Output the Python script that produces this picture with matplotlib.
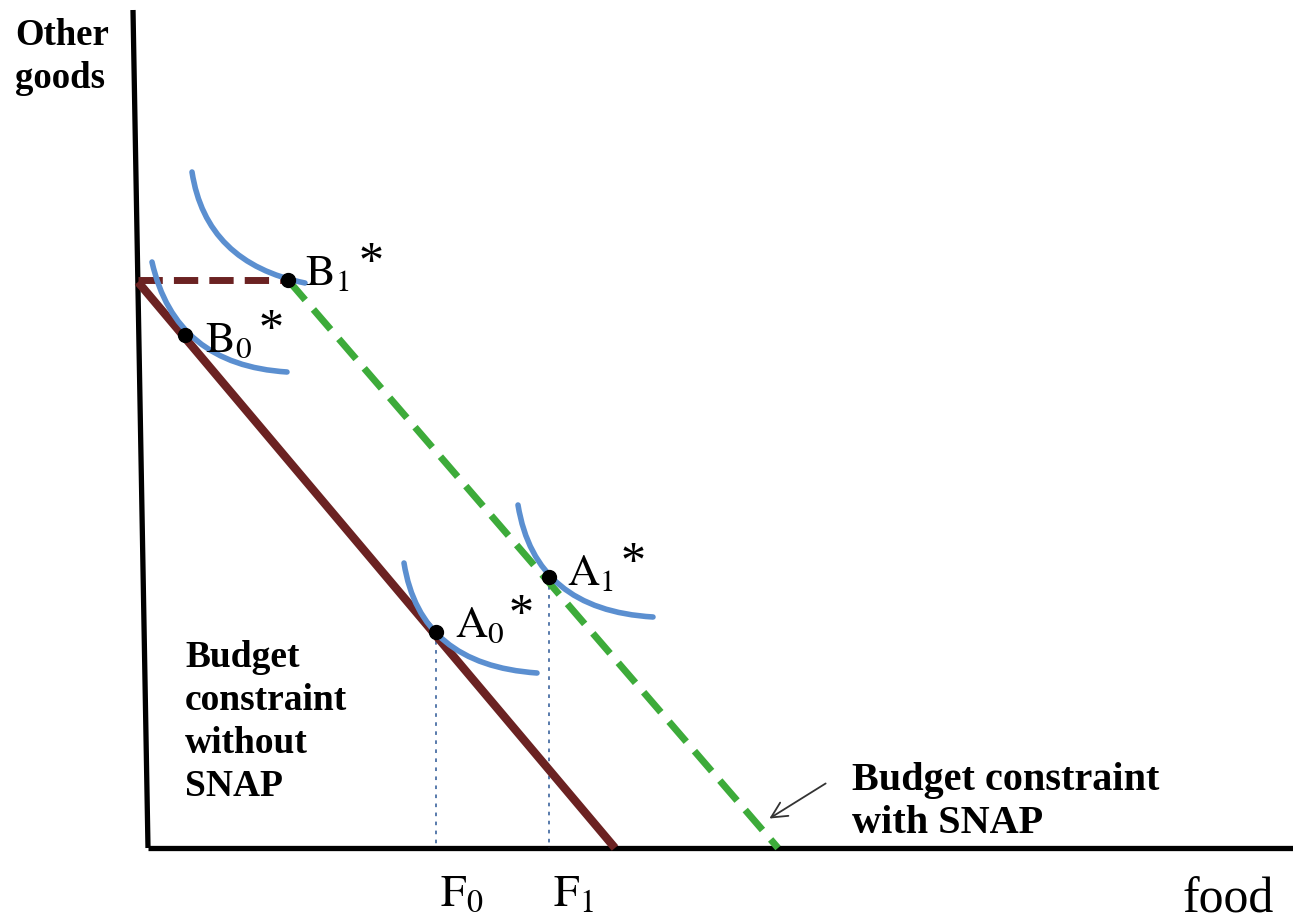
import matplotlib.pyplot as plt
from matplotlib.path import Path
from matplotlib.patches import PathPatch

plt.rcParams['mathtext.fontset'] = 'stix'

# coordinates (food, other goods), origin at the axes corner
budget_no_snap = [(-10, 566), (467, 0)]
snap_flat = [(-10, 568), (140, 568)]
budget_snap = [(140, 568), (630, 0)]

# indifference curves: start, control, end
ic_curves = {
    'B1': [(44, 676), (58, 585), (157, 565)],
    'B0': [(4, 586), (27, 483), (139, 476)],
    'A1': [(370, 343), (387, 238), (505, 231)],
    'A0': [(256, 285), (272, 183), (389, 175)],
}
opt_names = ['B1', 'B0', 'A1', 'A0']
opt_x = [140, 37, 401, 288]
opt_y = [568, 513, 271, 216]
opt_labels = [r'$\mathrm{B}_1$', r'$\mathrm{B}_0$', r'$\mathrm{A}_1$', r'$\mathrm{A}_0$']
f_names = [r'$\mathrm{F}_0$', r'$\mathrm{F}_1$']
f_x = [288, 401]
f_y = [216, 271]

fig = plt.figure(figsize=(12.93, 9.22), dpi=100)
ax = fig.add_axes([0, 0, 1, 1])
ax.set_xlim(-148, 1145)
ax.set_ylim(-74, 848)
ax.axis('off')

# axes lines
ax.plot([-15, 0], [838, 0], color='black', lw=3.8, solid_capstyle='butt')
ax.plot([0, 1145], [0, 0], color='black', lw=3.8, solid_capstyle='butt')

brown = '#6b2222'
green = '#3dab3a'
blue = '#5b8fd0'

ax.plot(*zip(*budget_no_snap), color=brown, lw=6, solid_capstyle='butt', zorder=3)
ax.plot(*zip(*snap_flat), color=brown, lw=5, ls=(0, (3.5, 1.6)), zorder=3)
ax.plot(*zip(*budget_snap), color=green, lw=5, ls=(0, (3.8, 1.8)), zorder=3)

for k in opt_names:
    p = PathPatch(Path(ic_curves[k], [Path.MOVETO, Path.CURVE3, Path.CURVE3]),
                  fc='none', ec=blue, lw=4, capstyle='round', zorder=4)
    ax.add_patch(p)

# dotted drop lines
for x, y in zip(f_x, f_y):
    ax.plot([x, x], [y, 0], color='#4a6fa5', lw=1.3, ls=(0, (2, 3)), zorder=2)

ax.plot(opt_x, opt_y, 'o', color='black', ms=10, zorder=5)

# label offsets from each point
lab_dx = [17, 20, 18, 19]
lab_dy = [-5, -17, -8, -5]
for x, y, lab, dx, dy in zip(opt_x, opt_y, opt_labels, lab_dx, lab_dy):
    ax.text(x + dx, y + dy, lab, fontsize=32, ha='left', va='baseline', zorder=6)
    ax.text(x + dx + 66, y + dy + 9, '*', fontsize=36, ha='center', va='baseline',
            family='Liberation Serif', zorder=6)

for x, lab in zip(f_x, f_names):
    ax.text(x + 4, -58, lab, fontsize=33, ha='left', va='baseline')

ax.text(1035, -64, 'food', fontsize=36, ha='left', va='baseline', family='Liberation Serif')


def lines(x, y0, rows, size):
    for i, r in enumerate(rows):
        ax.text(x, y0 - 43 * i, r, fontsize=size, fontweight='bold', ha='left',
                va='baseline', family='Liberation Serif')


lines(-133, 803, ['Other', 'goods'], 26.5)
lines(37, 181, ['Budget', 'constraint', 'without', 'SNAP'], 27)
lines(704, 58, ['Budget constraint', 'with SNAP'], 29)

ax.annotate('', xy=(619, 28), xytext=(680, 66),
            arrowprops=dict(arrowstyle='->', color='#333333', lw=1.3, mutation_scale=28))

fig.savefig('out.png', dpi=100)
